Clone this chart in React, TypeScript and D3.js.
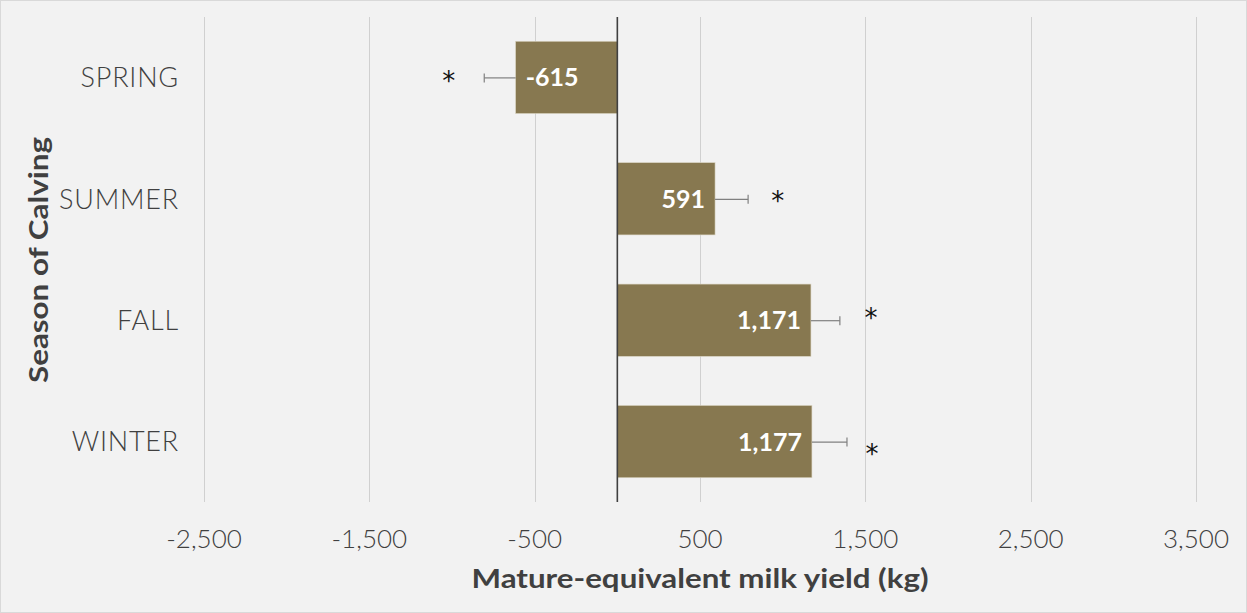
import React, { useEffect, useRef } from "react"
import * as d3 from "d3"

// chart data
const seasons = ["SPRING", "SUMMER", "FALL", "WINTER"]
const milkYield = [-615, 591, 1171, 1177]
const errorSize = [190, 200, 175, 212]
const starValue = [-1020, 970, 1535, 1540]
const starShift = [0, -2, -6, 8] // px nudge of the asterisks off the band centre
const tickValues = [-2500, -1500, -500, 500, 1500, 2500, 3500]

const W = 1247
const H = 613
const FONT = "Lato, 'Noto Sans', sans-serif"

// excel style: plain hyphen for negatives
const fmt = (v: number) => d3.format(",")(v).replace("\u2212", "-")

const App = () => {
  const ref = useRef<SVGSVGElement | null>(null)

  useEffect(() => {
    drawChart()
  }, [])

  function drawChart() {
    const svg = d3.select(ref.current)
    svg.selectAll("*").remove()

    const margin = { top: 17, right: 51, bottom: 111, left: 204 }
    const innerW = W - margin.left - margin.right
    const innerH = H - margin.top - margin.bottom

    // background + frame
    svg.append("rect")
      .attr("x", 0.5).attr("y", 0.5)
      .attr("width", W - 1).attr("height", H - 1)
      .style("fill", "#f2f2f2")
      .style("stroke", "#d9d9d9")

    const g = svg.append("g")
      .attr("transform", `translate(${margin.left}, ${margin.top})`)

    const x = d3.scaleLinear().domain([-2500, 3500]).range([0, innerW])
    const y = d3.scaleBand().domain(seasons).range([0, innerH]).paddingInner(0.405).paddingOuter(0.2)

    // gridlines
    g.selectAll(".grid")
      .data(tickValues)
      .enter()
      .append("line")
      .attr("x1", (d) => Math.round(x(d)) + 0.5)
      .attr("x2", (d) => Math.round(x(d)) + 0.5)
      .attr("y1", 0)
      .attr("y2", innerH)
      .style("stroke", "#d0d0d0")
      .style("stroke-width", 1)

    // tick labels
    g.selectAll(".tick-label")
      .data(tickValues)
      .enter()
      .append("text")
      .attr("x", (d) => x(d))
      .attr("y", innerH + 46)
      .attr("text-anchor", "middle")
      .style("font-family", FONT)
      .style("font-weight", 300)
      .style("font-size", "26px")
      .style("fill", "#404040")
      .text((d) => fmt(d))

    // bars
    g.selectAll(".bar")
      .data(milkYield)
      .enter()
      .append("rect")
      .attr("x", (d) => x(Math.min(0, d)))
      .attr("y", (_, i) => y(seasons[i])!)
      .attr("width", (d) => Math.abs(x(d) - x(0)))
      .attr("height", y.bandwidth())
      .style("fill", "#877850")
      .style("stroke", "#d8d2c0")
      .style("stroke-width", 0.6)

    // error bars
    const err = g.selectAll(".err")
      .data(milkYield)
      .enter()
      .append("g")
      .attr("transform", (_, i) => `translate(0, ${y(seasons[i])! + y.bandwidth() / 2})`)
    const errEnd = (d: number, i: number) => x(d + Math.sign(d) * errorSize[i])
    err.append("line")
      .attr("x1", (d) => x(d))
      .attr("x2", (d, i) => errEnd(d, i))
      .attr("y1", 0.5).attr("y2", 0.5)
      .style("stroke", "#808080")
      .style("stroke-width", 1.2)
    err.append("line")
      .attr("x1", (d, i) => errEnd(d, i))
      .attr("x2", (d, i) => errEnd(d, i))
      .attr("y1", -4).attr("y2", 5)
      .style("stroke", "#808080")
      .style("stroke-width", 1.2)

    // zero axis
    g.append("line")
      .attr("x1", x(0)).attr("x2", x(0))
      .attr("y1", 0).attr("y2", innerH)
      .style("stroke", "#404040")
      .style("stroke-width", 1.6)

    // value labels inside bar ends
    g.selectAll(".val")
      .data(milkYield)
      .enter()
      .append("text")
      .attr("x", (d) => (d < 0 ? x(d) + 10 : x(d) - 10))
      .attr("y", (_, i) => y(seasons[i])! + y.bandwidth() / 2)
      .attr("dy", "0.36em")
      .attr("text-anchor", (d) => (d < 0 ? "start" : "end"))
      .style("font-family", FONT)
      .style("font-weight", 700)
      .style("font-size", "25px")
      .style("fill", "#ffffff")
      .text((d) => fmt(d))

    // significance asterisks
    g.selectAll(".star")
      .data(starValue)
      .enter()
      .append("text")
      .attr("x", (d) => x(d))
      .attr("y", (_, i) => y(seasons[i])! + y.bandwidth() / 2 + starShift[i])
      .attr("dy", "0.5em")
      .attr("text-anchor", "middle")
      .style("font-family", "'DejaVu Sans', sans-serif")
      .style("font-size", "26px")
      .style("fill", "#111111")
      .text("*")

    // category labels
    g.selectAll(".cat")
      .data(seasons)
      .enter()
      .append("text")
      .attr("x", -25)
      .attr("y", (d) => y(d)! + y.bandwidth() / 2)
      .attr("dy", "0.36em")
      .attr("text-anchor", "end")
      .style("font-family", FONT)
      .style("font-weight", 300)
      .style("font-size", "27px")
      .style("letter-spacing", "0.8px")
      .style("fill", "#404040")
      .text((d) => d)

    // axis titles
    svg.append("text")
      .attr("x", 700)
      .attr("y", 588)
      .attr("text-anchor", "middle")
      .attr("textLength", 457)
      .attr("lengthAdjust", "spacingAndGlyphs")
      .style("font-family", FONT)
      .style("font-weight", 700)
      .style("font-size", "27px")
      .style("fill", "#404040")
      .text("Mature-equivalent milk yield (kg)")

    svg.append("text")
      .attr("transform", `translate(48, 260) rotate(-90)`)
      .attr("text-anchor", "middle")
      .attr("textLength", 246)
      .attr("lengthAdjust", "spacingAndGlyphs")
      .style("font-family", FONT)
      .style("font-weight", 700)
      .style("font-size", "27px")
      .style("fill", "#404040")
      .text("Season of Calving")
  }

  return (
    <svg
      ref={ref}
      width={W}
      height={H}
      style={{ position: "absolute", left: 0, top: 0, display: "block" }}
    />
  )
}

export default App
